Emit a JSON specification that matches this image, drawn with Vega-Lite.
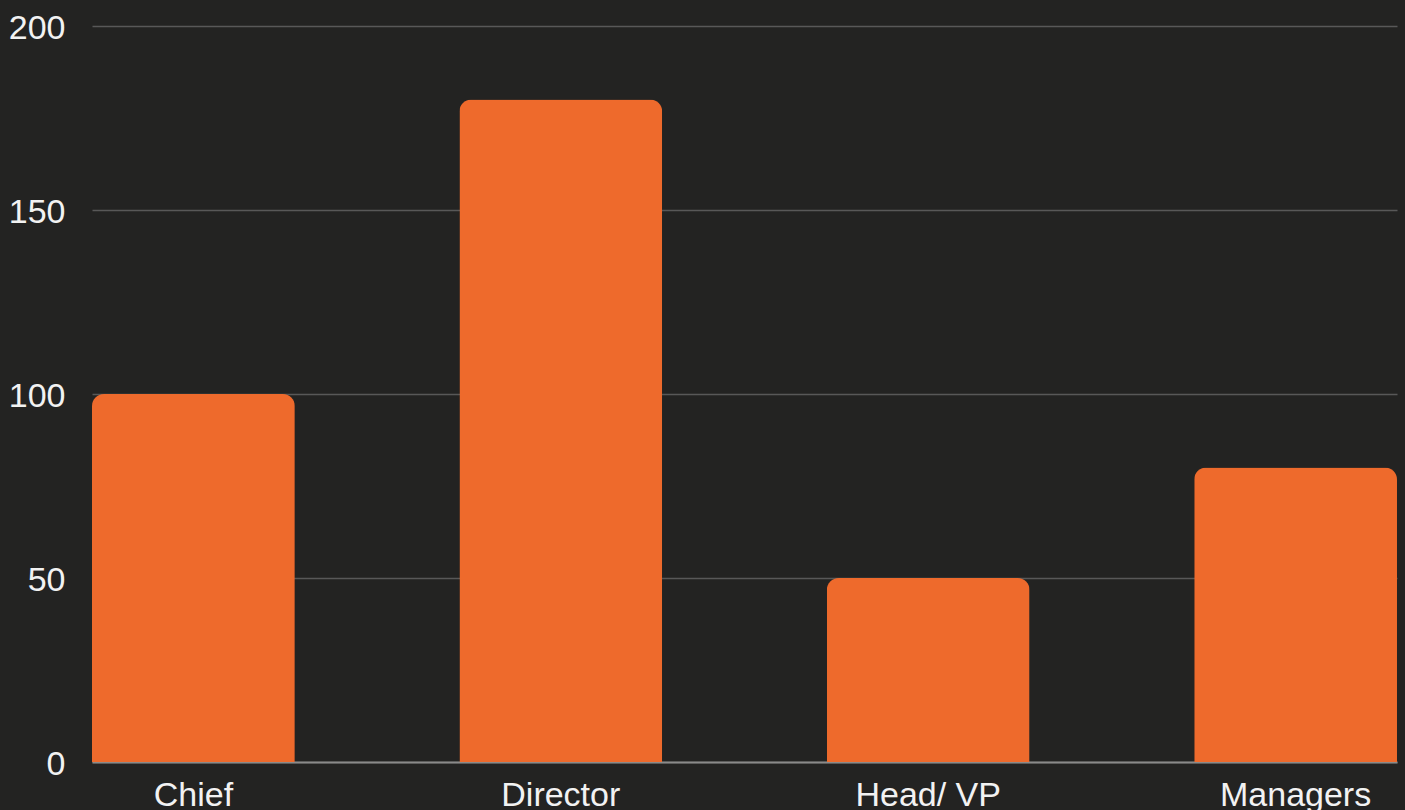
{
  "$schema": "https://vega.github.io/schema/vega-lite/v6.json",
  "width": 1305,
  "height": 736,
  "autosize": {"type": "none"},
  "padding": {"left": 92, "top": 26, "right": 8, "bottom": 48},
  "background": "#232322",
  "data": {
    "values": [
      {"role": "Chief", "count": 100},
      {"role": "Director", "count": 180},
      {"role": "Head/ VP", "count": 50},
      {"role": "Managers", "count": 80}
    ]
  },
  "config": {
    "view": {"stroke": null},
    "font": "Liberation Sans"
  },
  "mark": {"type": "bar", "color": "#EE6A2C", "cornerRadiusTopLeft": 12, "cornerRadiusTopRight": 12},
  "encoding": {
    "x": {
      "field": "role",
      "type": "nominal",
      "sort": null,
      "scale": {"paddingInner": 0.448, "paddingOuter": 0},
      "axis": {
        "title": null,
        "labelAngle": 0,
        "labelFont": "Liberation Sans",
        "labelFontSize": 34,
        "labelColor": "#f2f2f2",
        "labelPadding": 16,
        "ticks": false,
        "domainColor": "#8a8a8a",
        "domainWidth": 2,
        "grid": false
      }
    },
    "y": {
      "field": "count",
      "type": "quantitative",
      "scale": {"domain": [0, 200], "nice": false},
      "axis": {
        "title": null,
        "values": [0, 50, 100, 150, 200],
        "labelFont": "Liberation Sans",
        "labelFontSize": 34,
        "labelColor": "#f2f2f2",
        "labelPadding": 27,
        "labelOffset": 2,
        "ticks": false,
        "domain": false,
        "grid": true,
        "gridColor": "#585858",
        "gridWidth": 1.5
      }
    }
  }
}
